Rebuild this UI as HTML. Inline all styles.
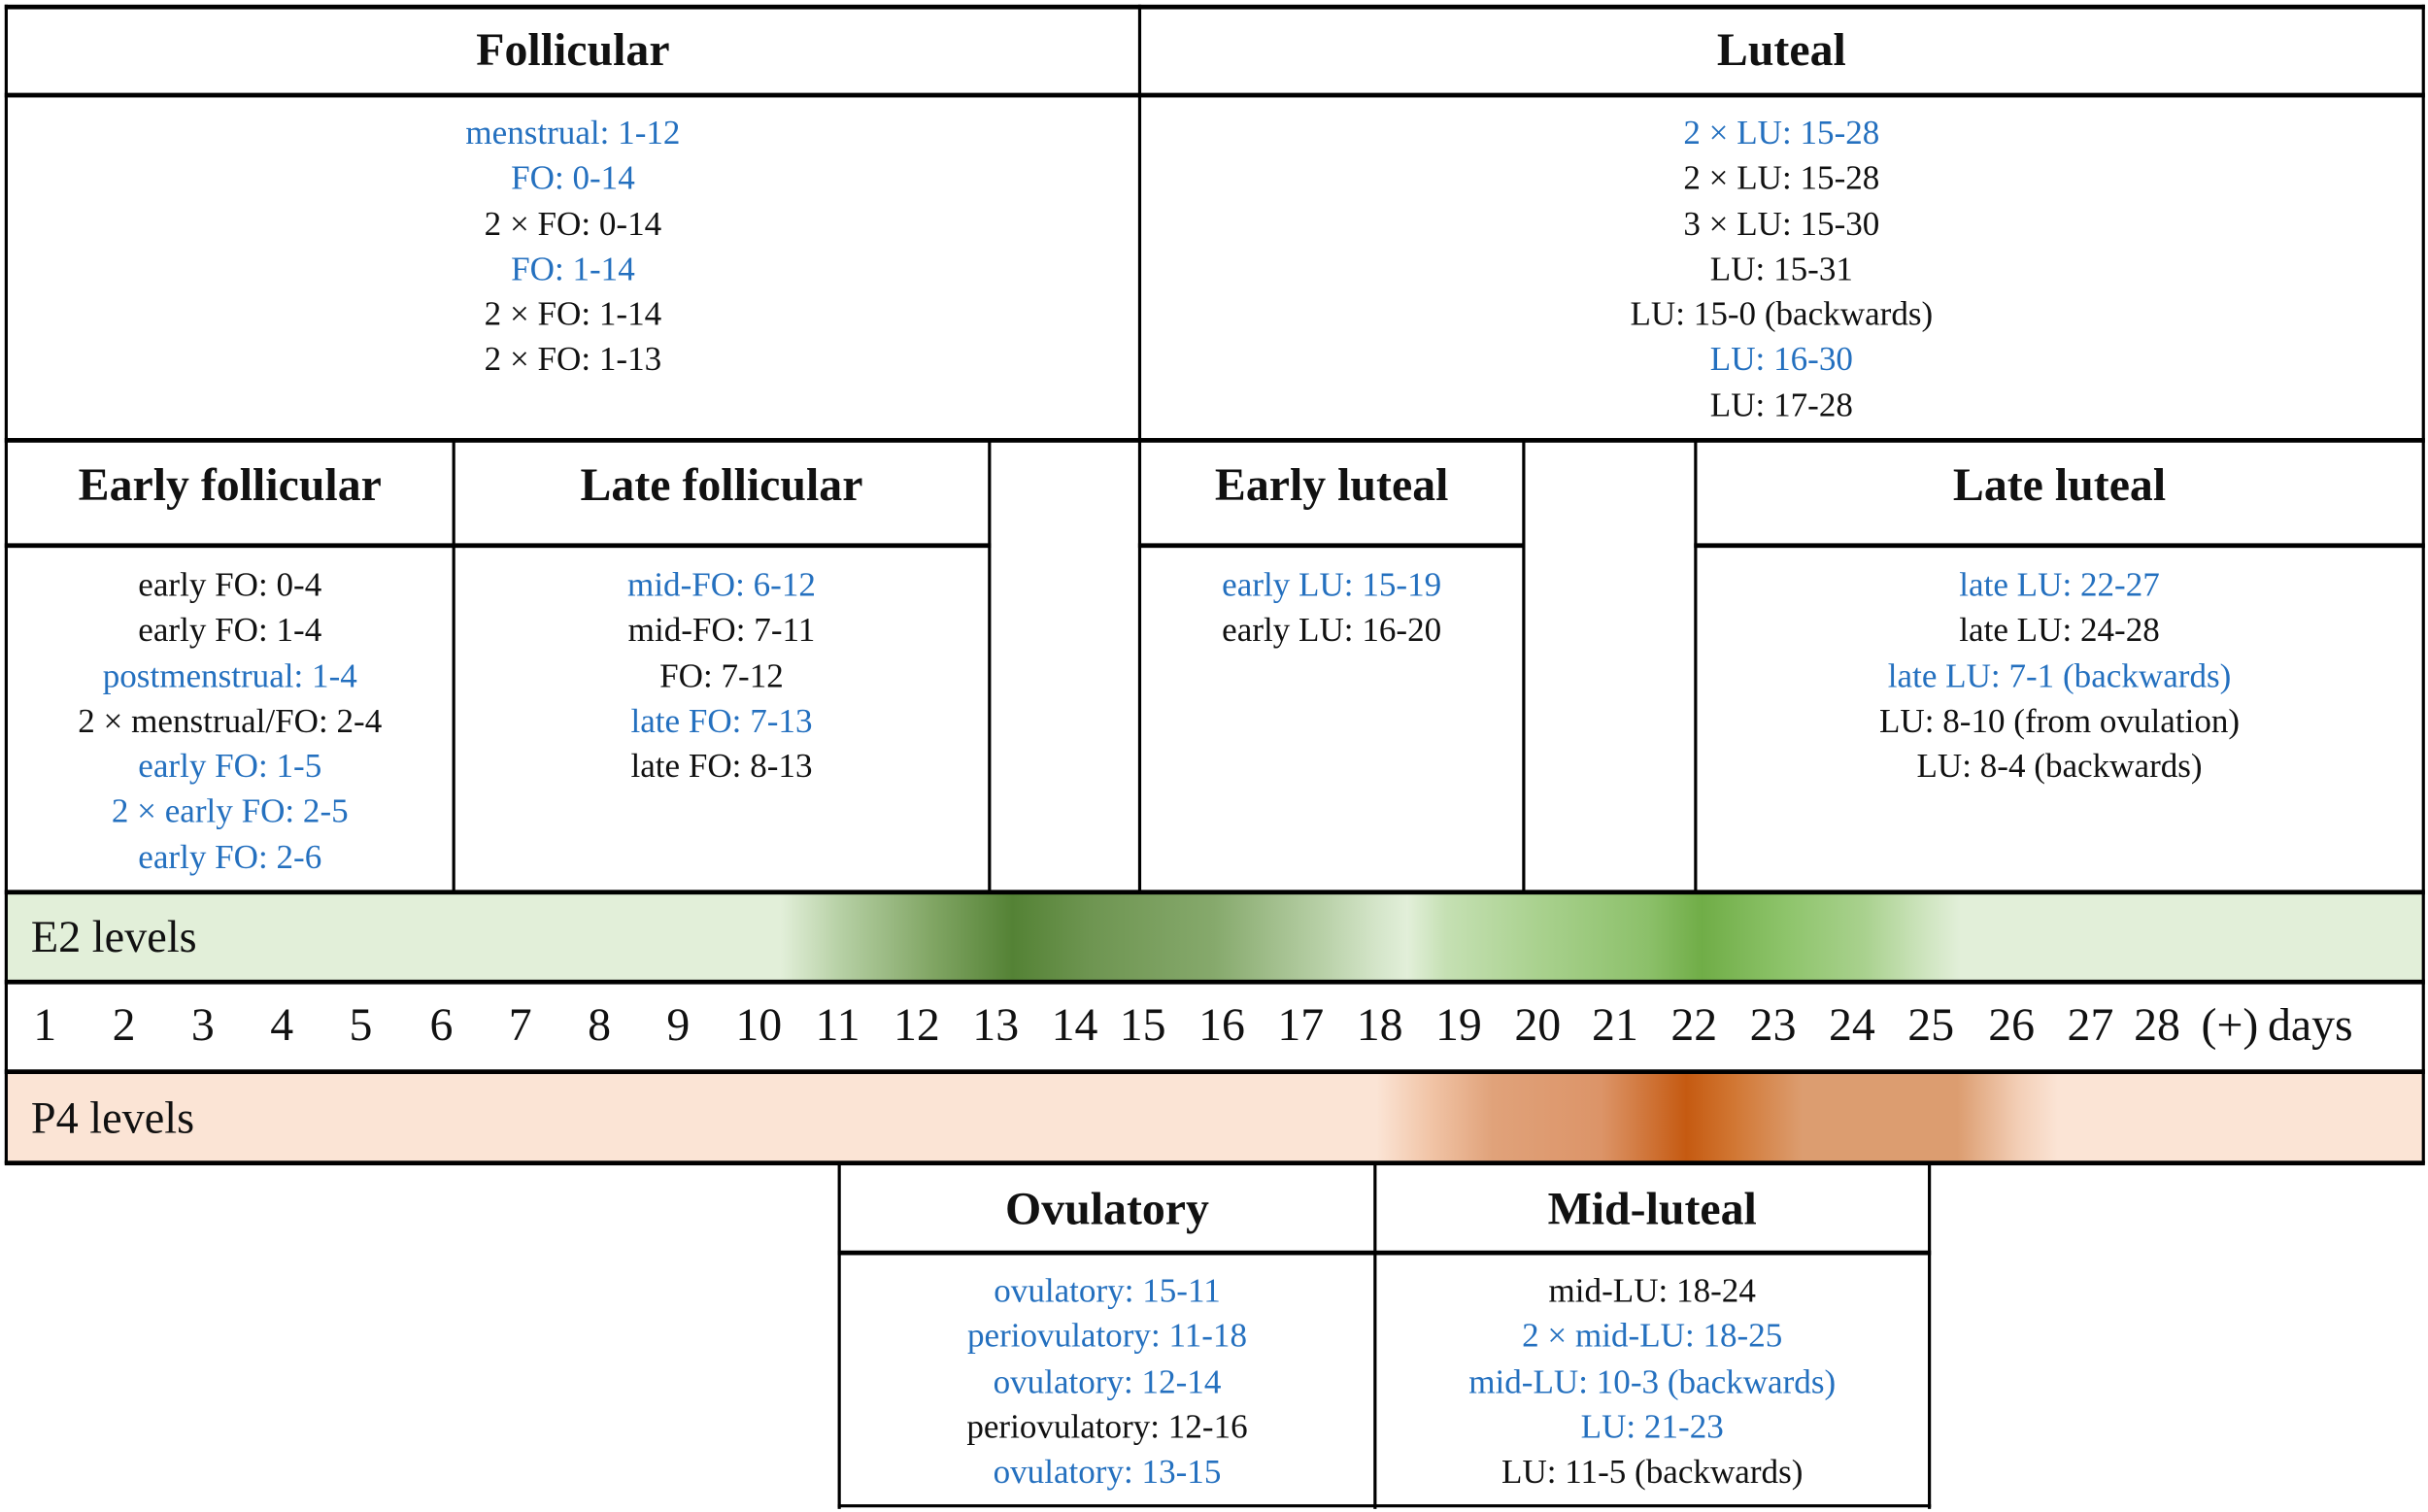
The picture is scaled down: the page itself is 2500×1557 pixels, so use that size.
<!DOCTYPE html>
<html><head><meta charset="utf-8"><style>
html,body{margin:0;padding:0;background:#fff;}
body{width:2500px;height:1557px;overflow:hidden;position:relative;}
#s{position:absolute;left:0;top:0;width:1568px;height:977px;transform:scale(1.5944,1.5937);transform-origin:0 0;font-family:"Liberation Serif","Times New Roman","DejaVu Serif",serif;color:#111;}
.l{position:absolute;background:#000;}
.h{position:absolute;font-weight:bold;font-size:30px;text-align:center;line-height:30px;font-family:"Liberation Serif","Times New Roman",serif;}
.c{position:absolute;font-size:22px;text-align:center;line-height:29.3px;white-space:nowrap;font-family:"Liberation Serif","Times New Roman",serif;}
.b{color:#2470bf;}
.d{position:absolute;font-size:30px;top:647px;line-height:32px;transform:translateX(-50%);font-family:"Liberation Serif","Times New Roman",serif;}
</style></head><body>
<div id="s">
<div style="position:absolute;left:4px;top:577px;width:1561px;height:57px;background:linear-gradient(90deg,#e2efd9 0px,#e2efd9 500px,#b5cfa3 540px,#7fa462 600px,#548235 650px,#6e9551 700px,#86a96c 780px,#b8d0a7 850px,#d4e5c9 885px,#e2efd9 905px,#c5e0b3 930px,#a9d18e 990px,#8cc06a 1060px,#70ad47 1095px,#8ec46b 1150px,#a9d18e 1200px,#cfe5c0 1240px,#e2efd9 1262px,#e2efd9 1561px);"></div>
<div style="position:absolute;left:20px;top:588px;font-size:29px;line-height:36px;font-family:'Liberation Serif','Times New Roman',serif;">E2 levels</div>
<div style="position:absolute;left:4px;top:694px;width:1561px;height:57px;background:linear-gradient(90deg,#fbe4d5 0px,#fbe4d5 885px,#f1c4a6 920px,#e0a27a 960px,#dc9468 1030px,#c55a11 1085px,#d17632 1115px,#dc9d70 1160px,#dc9d70 1260px,#f3cfb7 1300px,#fbe4d5 1325px,#fbe4d5 1561px);"></div>
<div style="position:absolute;left:20px;top:705px;font-size:29px;line-height:36px;font-family:'Liberation Serif','Times New Roman',serif;">P4 levels</div>
<div class="l" style="left:3px;top:3px;width:1563px;height:3px"></div>
<div class="l" style="left:3px;top:3px;width:2px;height:749px"></div>
<div class="l" style="left:1564px;top:3px;width:2px;height:749px"></div>
<div class="l" style="left:735px;top:3px;width:2px;height:574px"></div>
<div class="l" style="left:3px;top:60px;width:1563px;height:3px"></div>
<div class="l" style="left:3px;top:283px;width:1563px;height:3px"></div>
<div class="l" style="left:292px;top:284px;width:2px;height:293px"></div>
<div class="l" style="left:638px;top:284px;width:2px;height:293px"></div>
<div class="l" style="left:983px;top:284px;width:2px;height:293px"></div>
<div class="l" style="left:1094px;top:284px;width:2px;height:293px"></div>
<div class="l" style="left:3px;top:351px;width:637px;height:3px"></div>
<div class="l" style="left:735px;top:351px;width:250px;height:3px"></div>
<div class="l" style="left:1094px;top:351px;width:472px;height:3px"></div>
<div class="l" style="left:3px;top:575px;width:1563px;height:3px"></div>
<div class="l" style="left:3px;top:633px;width:1563px;height:3px"></div>
<div class="l" style="left:3px;top:691px;width:1563px;height:3px"></div>
<div class="l" style="left:3px;top:750px;width:1563px;height:3px"></div>
<div class="l" style="left:541px;top:751px;width:2px;height:224px"></div>
<div class="l" style="left:887px;top:751px;width:2px;height:224px"></div>
<div class="l" style="left:1245px;top:751px;width:2px;height:224px"></div>
<div class="l" style="left:541px;top:808px;width:706px;height:3px"></div>
<div class="l" style="left:541px;top:972px;width:706px;height:2px"></div>
<div class="h" style="left:4px;width:732px;top:18px">Follicular</div>
<div class="h" style="left:736px;width:829px;top:18px">Luteal</div>
<div class="h" style="left:4px;width:289px;top:299px">Early follicular</div>
<div class="h" style="left:293px;width:346px;top:299px">Late follicular</div>
<div class="h" style="left:736px;width:248px;top:299px">Early luteal</div>
<div class="h" style="left:1095px;width:470px;top:299px">Late luteal</div>
<div class="h" style="left:542px;width:346px;top:767px">Ovulatory</div>
<div class="h" style="left:888px;width:358px;top:767px">Mid-luteal</div>
<div class="c" style="left:4px;width:732px;top:71px">
<span class="b">menstrual: 1-12</span><br><span class="b">FO: 0-14</span><br>2 × FO: 0-14<br><span class="b">FO: 1-14</span><br>2 × FO: 1-14<br>2 × FO: 1-13</div>
<div class="c" style="left:736px;width:829px;top:71px">
<span class="b">2 × LU: 15-28</span><br>2 × LU: 15-28<br>3 × LU: 15-30<br>LU: 15-31<br>LU: 15-0 (backwards)<br><span class="b">LU: 16-30</span><br>LU: 17-28</div>
<div class="c" style="left:4px;width:289px;top:363px">
early FO: 0-4<br>early FO: 1-4<br><span class="b">postmenstrual: 1-4</span><br>2 × menstrual/FO: 2-4<br><span class="b">early FO: 1-5</span><br><span class="b">2 × early FO: 2-5</span><br><span class="b">early FO: 2-6</span></div>
<div class="c" style="left:293px;width:346px;top:363px">
<span class="b">mid-FO: 6-12</span><br>mid-FO: 7-11<br>FO: 7-12<br><span class="b">late FO: 7-13</span><br>late FO: 8-13</div>
<div class="c" style="left:736px;width:248px;top:363px">
<span class="b">early LU: 15-19</span><br>early LU: 16-20</div>
<div class="c" style="left:1095px;width:470px;top:363px">
<span class="b">late LU: 22-27</span><br>late LU: 24-28<br><span class="b">late LU: 7-1 (backwards)</span><br>LU: 8-10 (from ovulation)<br>LU: 8-4 (backwards)</div>
<div class="c" style="left:542px;width:346px;top:819px">
<span class="b">ovulatory: 15-11</span><br><span class="b">periovulatory: 11-18</span><br><span class="b">ovulatory: 12-14</span><br>periovulatory: 12-16<br><span class="b">ovulatory: 13-15</span></div>
<div class="c" style="left:888px;width:358px;top:819px">
mid-LU: 18-24<br><span class="b">2 × mid-LU: 18-25</span><br><span class="b">mid-LU: 10-3 (backwards)</span><br><span class="b">LU: 21-23</span><br>LU: 11-5 (backwards)</div>
<div id="days"></div>
</div>
<script>
const dayLabels=["1","2","3","4","5","6","7","8","9","10","11","12","13","14","15","16","17","18","19","20","21","22","23","24","25","26","27","28","(+)","days"];
const dayCenters=[29,80,131,182,233,285,336,387,438,490,541,592,643,694,738,789,840,891,942,993,1043,1094,1145,1196,1247,1299,1350,1393,1440,1492];
const host=document.getElementById('days');
dayLabels.forEach((t,i)=>{
  const el=document.createElement('div');
  el.className='d';
  el.style.left=dayCenters[i]+'px';
  el.textContent=t;
  
  
  host.appendChild(el);
});
</script>
</body></html>
